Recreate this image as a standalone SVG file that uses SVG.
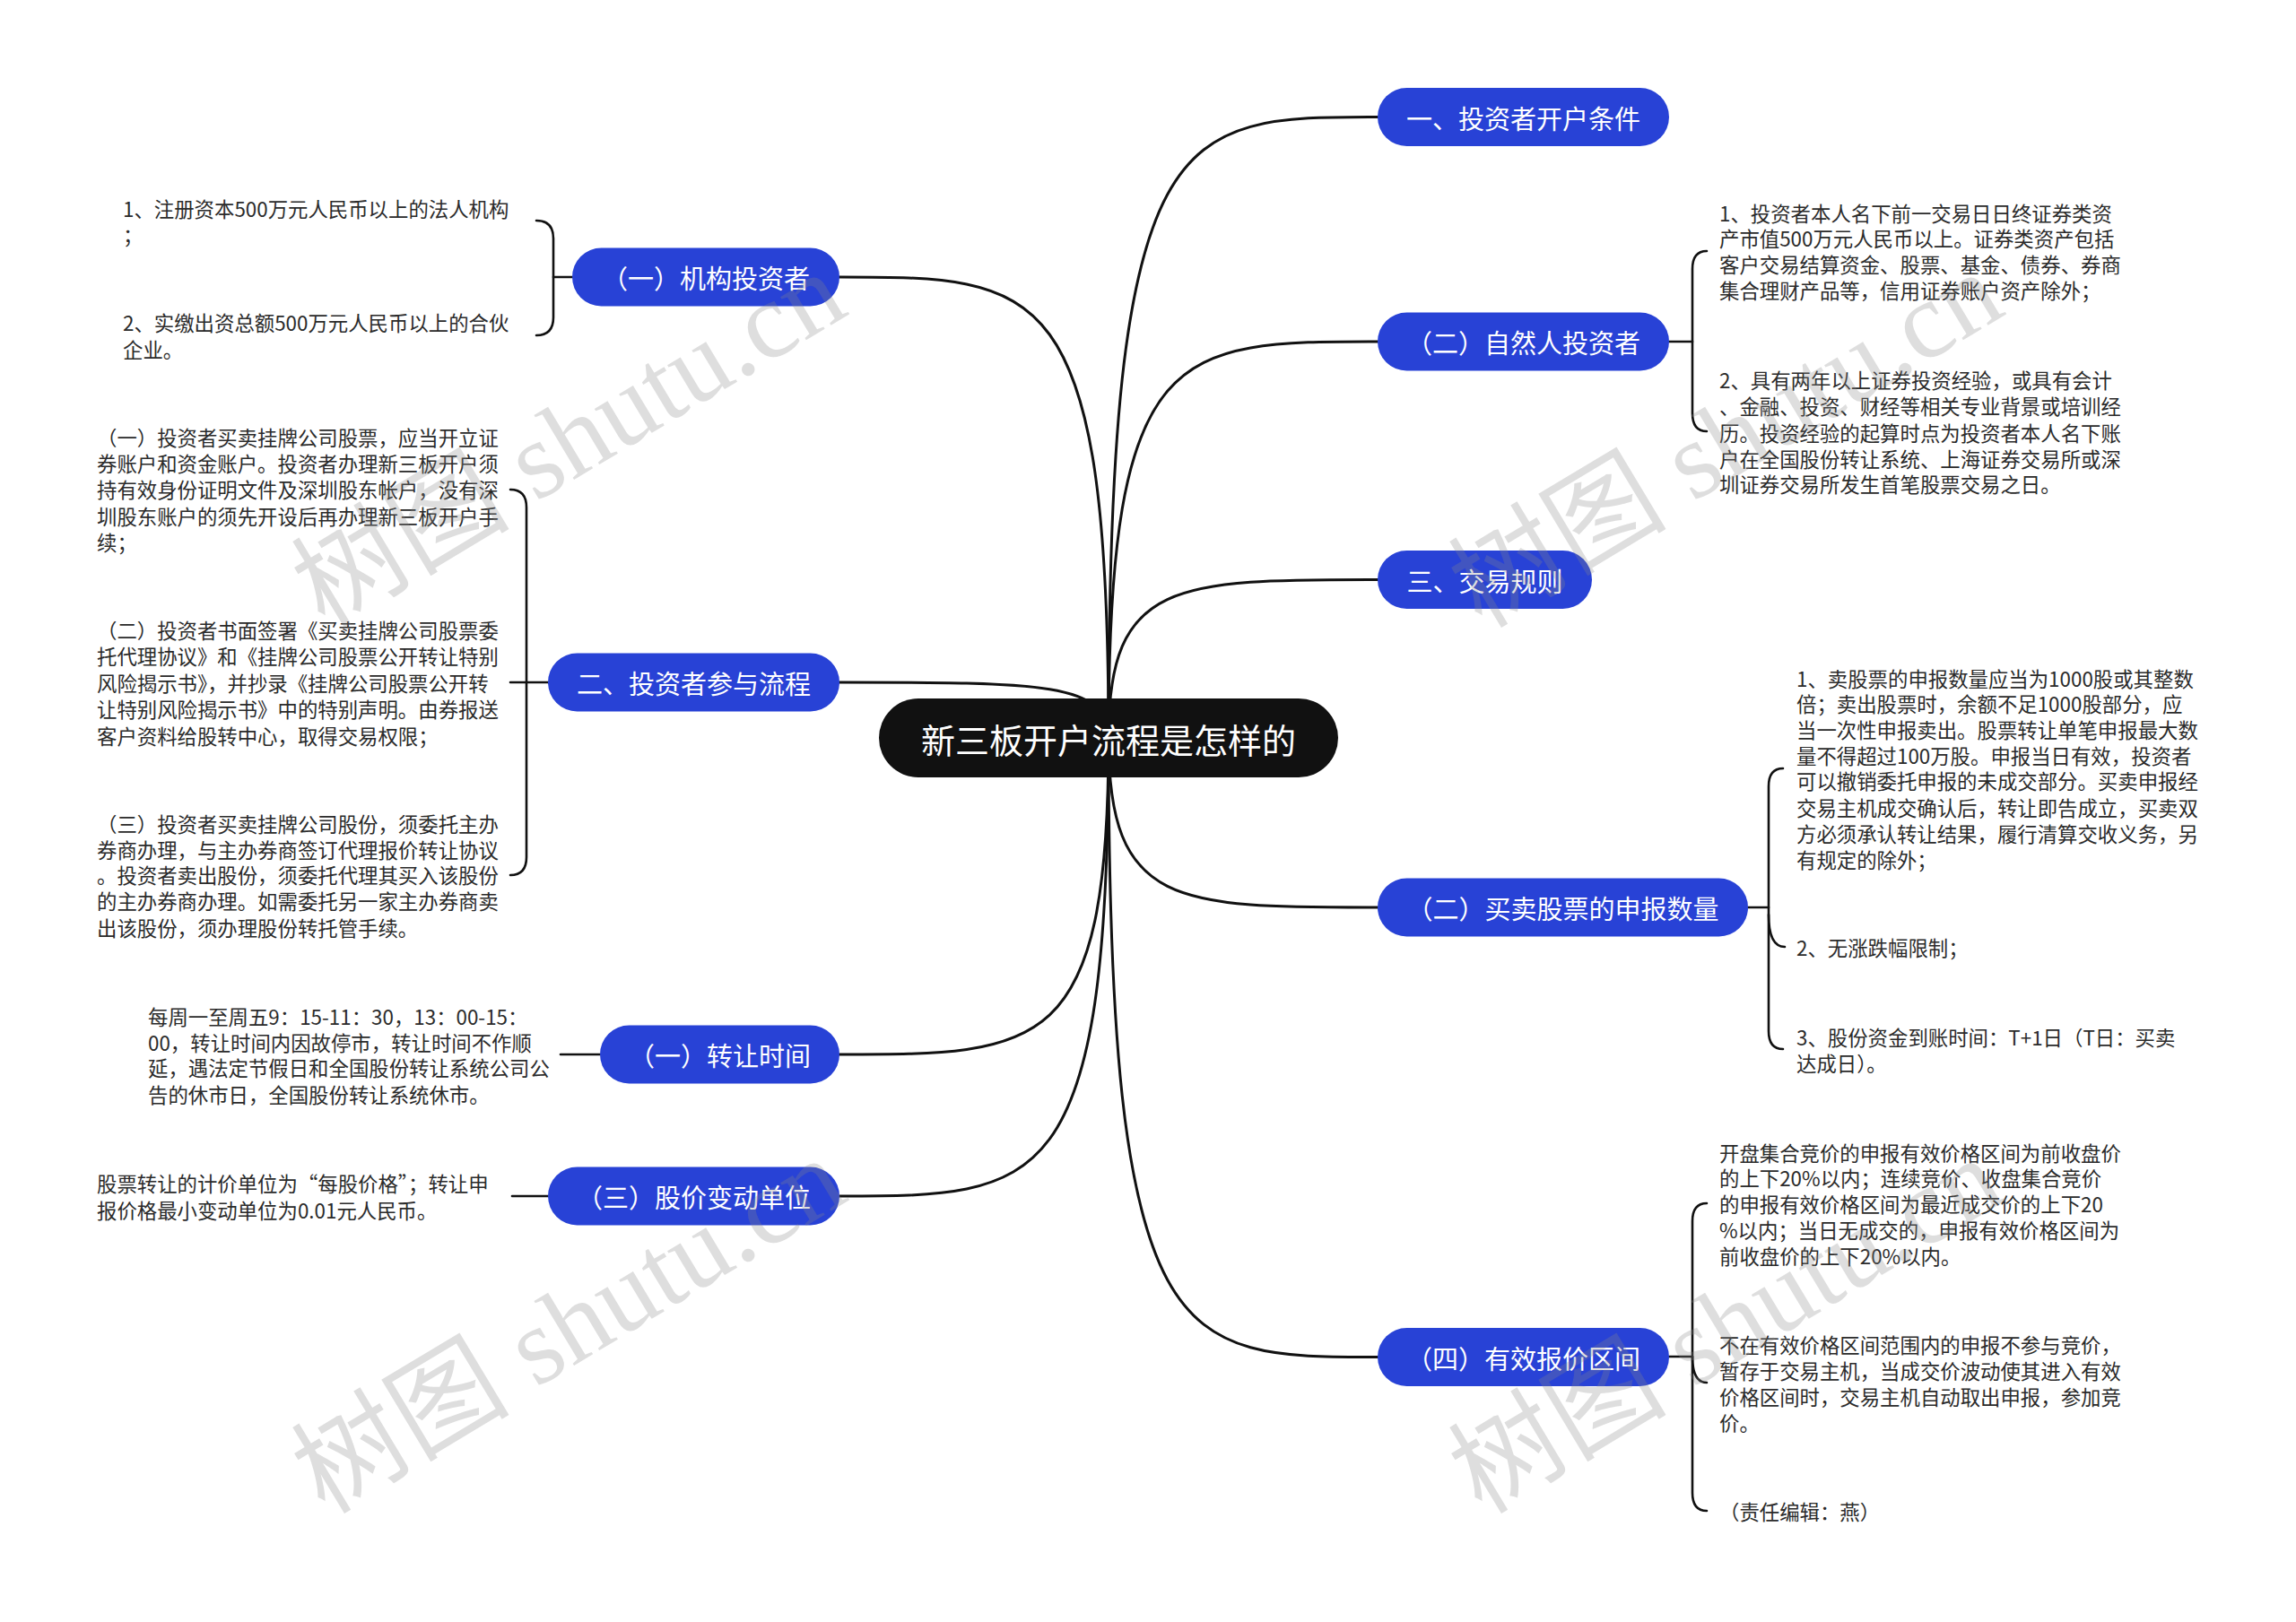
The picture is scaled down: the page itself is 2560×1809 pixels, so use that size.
<svg xmlns="http://www.w3.org/2000/svg" width="2560" height="1809" viewBox="0 0 2560 1809">
<style>
.bg{fill:#ffffff}
.conn{fill:none;stroke:#111;stroke-width:3;stroke-linecap:round}
.br{fill:none;stroke:#111;stroke-width:2.6;stroke-linecap:round}
.root rect{fill:#111}
.root text{fill:#fff;font-family:"Noto Sans CJK SC","Noto Sans",sans-serif;font-size:38px;text-anchor:middle;dominant-baseline:central}
.blue rect{fill:#2842d6}
.blue text{fill:#fff;font-family:"Noto Sans CJK SC","Noto Sans",sans-serif;font-size:29px;text-anchor:middle;dominant-baseline:central}
.leaf text{fill:#2b2b2b;font-family:"Noto Sans CJK SC","Noto Sans",sans-serif;font-size:22.4px;dominant-baseline:central}
.wm{fill:#888;fill-opacity:0.28;font-family:"Liberation Serif","Noto Sans CJK SC",serif;font-size:122px}
</style>
<rect class="bg" x="0" y="0" width="2560" height="1809"/>

<g id="connectors">
  <path class="conn" d="M1236 823 C1236 130.5 1311 130.5 1536 130.5"/>
  <path class="conn" d="M1236 823 C1236 381 1311 381 1536 381"/>
  <path class="conn" d="M1236 823 C1236 646.5 1311 646.5 1536 646.5"/>
  <path class="conn" d="M1236 823 C1236 1012 1311 1012 1536 1012"/>
  <path class="conn" d="M1236 823 C1236 1513.5 1311 1513.5 1536 1513.5"/>
  <path class="conn" d="M1236 823 C1236 309 1161 309 936 309"/>
  <path class="conn" d="M1236 823 C1236 761 1161 761 936 761"/>
  <path class="conn" d="M1236 823 C1236 1176 1161 1176 936 1176"/>
  <path class="conn" d="M1236 823 C1236 1334 1161 1334 936 1334"/>
  <!-- left brackets -->
  <path class="br" d="M598 246 Q617 246 617 266 L617 354 Q617 374 598 374"/>
  <path class="br" d="M617 309 L638 309"/>
  <path class="br" d="M569 546 Q587 546 587 566 L587 956 Q587 976 569 976"/>
  <path class="br" d="M569 761 L611 761"/>
  <path class="br" d="M625 1176 L669 1176"/>
  <path class="br" d="M571 1334 L611 1334"/>
  <!-- right brackets -->
  <path class="br" d="M1903 280 Q1887 280 1887 300 L1887 461 Q1887 481 1903 481"/>
  <path class="br" d="M1861 381 L1887 381"/>
  <path class="br" d="M1988 857 Q1972 857 1972 877 L1972 1150 Q1972 1170 1988 1170"/>
  <path class="br" d="M1972 1020 Q1972 1056 1990 1056"/>
  <path class="br" d="M1949 1012 L1972 1012"/>
  <path class="br" d="M1903 1342 Q1887 1342 1887 1362 L1887 1665 Q1887 1685 1903 1685"/>
  <path class="br" d="M1887 1513 Q1887 1542 1903 1542"/>
  <path class="br" d="M1861 1513 L1887 1513"/>
</g>

<g id="root" class="root">
  <rect x="980" y="779" width="512" height="88" rx="44"/>
  <text x="1236" y="823">新三板开户流程是怎样的</text>
</g>

<g id="n-right-1" class="blue">
  <rect x="1536" y="98" width="325" height="65" rx="32.5"/>
  <text x="1698.5" y="130.5">一、投资者开户条件</text>
</g>
<g id="n-right-2" class="blue">
  <rect x="1536" y="348.5" width="325" height="65" rx="32.5"/>
  <text x="1698.5" y="381">（二）自然人投资者</text>
</g>
<g id="n-right-3" class="blue">
  <rect x="1536" y="614" width="239" height="65" rx="32.5"/>
  <text x="1655.5" y="646.5">三、交易规则</text>
</g>
<g id="n-right-4" class="blue">
  <rect x="1536" y="979.5" width="413" height="65" rx="32.5"/>
  <text x="1742.5" y="1012">（二）买卖股票的申报数量</text>
</g>
<g id="n-right-5" class="blue">
  <rect x="1536" y="1481" width="325" height="65" rx="32.5"/>
  <text x="1698.5" y="1513.5">（四）有效报价区间</text>
</g>

<g id="n-left-1" class="blue">
  <rect x="638" y="276.5" width="298" height="65" rx="32.5"/>
  <text x="787" y="309">（一）机构投资者</text>
</g>
<g id="n-left-2" class="blue">
  <rect x="611" y="728.5" width="325" height="65" rx="32.5"/>
  <text x="773.5" y="761">二、投资者参与流程</text>
</g>
<g id="n-left-3" class="blue">
  <rect x="669" y="1143.5" width="267" height="65" rx="32.5"/>
  <text x="802.5" y="1176">（一）转让时间</text>
</g>
<g id="n-left-4" class="blue">
  <rect x="611" y="1301.5" width="325" height="65" rx="32.5"/>
  <text x="773.5" y="1334">（三）股价变动单位</text>
</g>

<g id="leaf-a1" class="leaf">
  <text x="137" y="232">1、注册资本500万元人民币以上的法人机构</text>
  <text x="137" y="261">；</text>
</g>
<g id="leaf-a2" class="leaf">
  <text x="137" y="359">2、实缴出资总额500万元人民币以上的合伙</text>
  <text x="137" y="389">企业。</text>
</g>

<g id="leaf-b1" class="leaf">
  <text x="108" y="487">（一）投资者买卖挂牌公司股票，应当开立证</text>
  <text x="108" y="516">券账户和资金账户。投资者办理新三板开户须</text>
  <text x="108" y="545">持有效身份证明文件及深圳股东帐户，没有深</text>
  <text x="108" y="575">圳股东账户的须先开设后再办理新三板开户手</text>
  <text x="108" y="604">续；</text>
</g>
<g id="leaf-b2" class="leaf">
  <text x="108" y="702">（二）投资者书面签署《买卖挂牌公司股票委</text>
  <text x="108" y="731">托代理协议》和《挂牌公司股票公开转让特别</text>
  <text x="108" y="761">风险揭示书》，并抄录《挂牌公司股票公开转</text>
  <text x="108" y="790">让特别风险揭示书》中的特别声明。由券报送</text>
  <text x="108" y="820">客户资料给股转中心，取得交易权限；</text>
</g>
<g id="leaf-b3" class="leaf">
  <text x="108" y="918">（三）投资者买卖挂牌公司股份，须委托主办</text>
  <text x="108" y="947">券商办理，与主办券商签订代理报价转让协议</text>
  <text x="108" y="975">。投资者卖出股份，须委托代理其买入该股份</text>
  <text x="108" y="1004">的主办券商办理。如需委托另一家主办券商卖</text>
  <text x="108" y="1034">出该股份，须办理股份转托管手续。</text>
</g>

<g id="leaf-c1" class="leaf">
  <text x="165" y="1133">每周一至周五9：15-11：30，13：00-15：</text>
  <text x="165" y="1162">00，转让时间内因故停市，转让时间不作顺</text>
  <text x="165" y="1190">延，遇法定节假日和全国股份转让系统公司公</text>
  <text x="165" y="1220">告的休市日，全国股份转让系统休市。</text>
</g>

<g id="leaf-d1" class="leaf">
  <text x="108" y="1319">股票转让的计价单位为“每股价格”；转让申</text>
  <text x="108" y="1349">报价格最小变动单位为0.01元人民币。</text>
</g>

<g id="leaf-e1" class="leaf">
  <text x="1917" y="237">1、投资者本人名下前一交易日日终证券类资</text>
  <text x="1917" y="265">产市值500万元人民币以上。证券类资产包括</text>
  <text x="1917" y="294">客户交易结算资金、股票、基金、债券、券商</text>
  <text x="1917" y="323">集合理财产品等，信用证券账户资产除外；</text>
</g>
<g id="leaf-e2" class="leaf">
  <text x="1917" y="423">2、具有两年以上证券投资经验，或具有会计</text>
  <text x="1917" y="452">、金融、投资、财经等相关专业背景或培训经</text>
  <text x="1917" y="482">历。投资经验的起算时点为投资者本人名下账</text>
  <text x="1917" y="511">户在全国股份转让系统、上海证券交易所或深</text>
  <text x="1917" y="539">圳证券交易所发生首笔股票交易之日。</text>
</g>

<g id="leaf-f1" class="leaf">
  <text x="2003" y="756">1、卖股票的申报数量应当为1000股或其整数</text>
  <text x="2003" y="784">倍；卖出股票时，余额不足1000股部分，应</text>
  <text x="2003" y="813">当一次性申报卖出。股票转让单笔申报最大数</text>
  <text x="2003" y="842">量不得超过100万股。申报当日有效，投资者</text>
  <text x="2003" y="870">可以撤销委托申报的未成交部分。买卖申报经</text>
  <text x="2003" y="900">交易主机成交确认后，转让即告成立，买卖双</text>
  <text x="2003" y="929">方必须承认转让结果，履行清算交收义务，另</text>
  <text x="2003" y="958">有规定的除外；</text>
</g>
<g id="leaf-f2" class="leaf">
  <text x="2003" y="1056">2、无涨跌幅限制；</text>
</g>
<g id="leaf-f3" class="leaf">
  <text x="2003" y="1156">3、股份资金到账时间：T+1日（T日：买卖</text>
  <text x="2003" y="1185">达成日）。</text>
</g>

<g id="leaf-g1" class="leaf">
  <text x="1917" y="1285">开盘集合竞价的申报有效价格区间为前收盘价</text>
  <text x="1917" y="1313">的上下20%以内；连续竞价、收盘集合竞价</text>
  <text x="1917" y="1342">的申报有效价格区间为最近成交价的上下20</text>
  <text x="1917" y="1371">%以内；当日无成交的，申报有效价格区间为</text>
  <text x="1917" y="1400">前收盘价的上下20%以内。</text>
</g>
<g id="leaf-g2" class="leaf">
  <text x="1917" y="1499">不在有效价格区间范围内的申报不参与竞价，</text>
  <text x="1917" y="1528">暂存于交易主机，当成交价波动使其进入有效</text>
  <text x="1917" y="1557">价格区间时，交易主机自动取出申报，参加竞</text>
  <text x="1917" y="1586">价。</text>
</g>
<g id="leaf-g3" class="leaf">
  <text x="1917" y="1685">（责任编辑：燕）</text>
</g>

<g id="watermarks">
  <text class="wm" x="362" y="702" transform="rotate(-31 362 702)">树图 shutu.cn</text>
  <text class="wm" x="1652" y="702" transform="rotate(-31 1652 702)">树图 shutu.cn</text>
  <text class="wm" x="362" y="1690" transform="rotate(-31 362 1690)">树图 shutu.cn</text>
  <text class="wm" x="1652" y="1690" transform="rotate(-31 1652 1690)">树图 shutu.cn</text>
</g>
</svg>
